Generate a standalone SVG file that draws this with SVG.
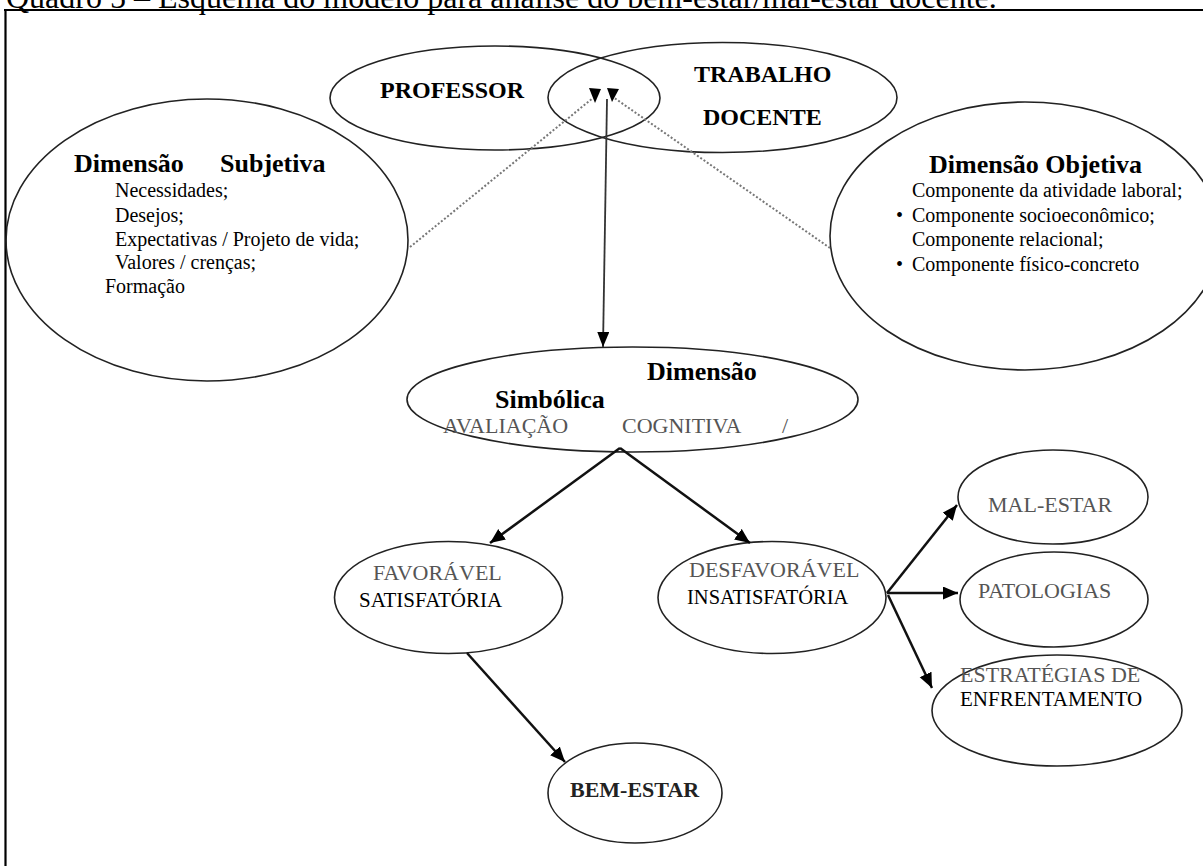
<svg xmlns="http://www.w3.org/2000/svg" width="1203" height="866" viewBox="0 0 1203 866">
<style>
text{font-family:"Liberation Serif","Times New Roman",serif;fill:#000}
.node{fill:none;stroke:#222;stroke-width:1.6}
.b{font-weight:bold}
.h{font-size:26px;font-weight:bold}
.t{font-size:24px;font-weight:bold}
.l{font-size:20px}
.g{font-size:22px;fill:#555}
.k{font-size:21px}
.frame{stroke:#000;stroke-width:2.2;fill:none}
.arr{stroke:#111;stroke-width:2.5;fill:none}
.v{stroke:#333;stroke-width:1.8;fill:none}
.dot{stroke:#777;stroke-width:2;stroke-dasharray:2 2;fill:none}
.head{fill:#000}
</style>
<defs>
<marker id="ah" markerUnits="userSpaceOnUse" markerWidth="16" markerHeight="14" refX="15" refY="6.5" orient="auto"><path d="M0,0 L15,6.5 L0,13 z" fill="#000"/></marker>
<marker id="ahv" markerUnits="userSpaceOnUse" markerWidth="16" markerHeight="14" refX="15" refY="6" orient="auto"><path d="M0,0 L15,6 L0,12 z" fill="#000"/></marker>
</defs>
<rect x="0" y="0" width="1203" height="866" fill="#fff"/>
<g id="title">
<text x="6" y="7.5" font-size="32">Quadro 5 – Esquema do modelo para análise do bem-estar/mal-estar docente.</text>
</g>
<g id="frame">
<line class="frame" x1="4" y1="10" x2="1203" y2="10"/>
<line class="frame" x1="5.5" y1="9" x2="5.5" y2="866"/>
</g>
<g id="professor">
<ellipse class="node" cx="495" cy="98" rx="165" ry="52"/>
<text class="t" x="380" y="98">PROFESSOR</text>
</g>
<g id="trabalho-docente">
<ellipse class="node" cx="722.5" cy="97.5" rx="174.5" ry="55"/>
<text class="t" x="694" y="82">TRABALHO</text>
<text class="t" x="703" y="125">DOCENTE</text>
</g>
<g id="dimensao-subjetiva">
<ellipse class="node" cx="207" cy="240" rx="201" ry="141"/>
<text class="h" y="172"><tspan x="74">Dimensão</tspan><tspan x="220">Subjetiva</tspan></text>
<text class="l" x="115" y="197">Necessidades;</text>
<text class="l" x="115" y="222">Desejos;</text>
<text class="l" x="115" y="246">Expectativas / Projeto de vida;</text>
<text class="l" x="115" y="269">Valores / crenças;</text>
<text class="l" x="105" y="293">Formação</text>
</g>
<g id="dimensao-objetiva">
<ellipse class="node" cx="1025" cy="236" rx="195" ry="134"/>
<text class="h" x="929" y="173">Dimensão Objetiva</text>
<text class="l" x="912" y="197">Componente da atividade laboral;</text>
<text class="l" x="896" y="222">•</text>
<text class="l" x="912" y="222">Componente socioeconômico;</text>
<text class="l" x="912" y="246">Componente relacional;</text>
<text class="l" x="896" y="271">•</text>
<text class="l" x="912" y="271">Componente físico-concreto</text>
</g>
<g id="dimensao-simbolica">
<ellipse class="node" cx="632.5" cy="399.5" rx="225.5" ry="52.5"/>
<text class="h" x="647" y="380">Dimensão</text>
<text class="h" x="495" y="408">Simbólica</text>
<text class="g" x="443" y="433">AVALIAÇÃO</text>
<text class="g" x="622" y="433">COGNITIVA</text>
<text class="g" x="782" y="433">/</text>
</g>
<g id="favoravel">
<ellipse class="node" cx="448.5" cy="597.5" rx="114" ry="56"/>
<text class="g" x="373" y="580">FAVORÁVEL</text>
<text class="k" x="359" y="607">SATISFATÓRIA</text>
</g>
<g id="desfavoravel">
<ellipse class="node" cx="772" cy="597.5" rx="114" ry="56"/>
<text class="g" x="689" y="577">DESFAVORÁVEL</text>
<text class="k" x="687" y="604" style="font-size:20.5px">INSATISFATÓRIA</text>
</g>
<g id="mal-estar">
<ellipse class="node" cx="1053" cy="497" rx="95" ry="47"/>
<text class="g" x="988" y="512">MAL-ESTAR</text>
</g>
<g id="patologias">
<ellipse class="node" cx="1054" cy="599.5" rx="94" ry="47.5"/>
<text class="g" x="978" y="598">PATOLOGIAS</text>
</g>
<g id="estrategias">
<ellipse class="node" cx="1057" cy="710.5" rx="125" ry="55.5"/>
<text class="g" x="960" y="682">ESTRATÉGIAS DE</text>
<text class="k" x="960" y="706">ENFRENTAMENTO</text>
</g>
<g id="bem-estar">
<ellipse class="node" cx="635" cy="793" rx="87" ry="50"/>
<text class="b" x="570" y="797" font-size="22" style="fill:#222">BEM-ESTAR</text>
</g>
<g id="connectors">
<line class="v" x1="607" y1="99" x2="603" y2="347" marker-end="url(#ahv)"/>
<line class="dot" x1="410" y1="247" x2="593" y2="98"/>
<polygon class="head" points="589,88 601,89 595,103"/>
<line class="dot" x1="830" y1="248" x2="613" y2="97"/>
<polygon class="head" points="607,88 619,89 612,102"/>
<line class="arr" x1="620" y1="448" x2="490" y2="543" marker-end="url(#ah)"/>
<line class="arr" x1="620" y1="448" x2="750" y2="543" marker-end="url(#ah)"/>
<line class="arr" x1="467" y1="653" x2="565" y2="762" marker-end="url(#ah)"/>
<line class="arr" x1="887" y1="593" x2="957" y2="505" marker-end="url(#ah)"/>
<line class="arr" x1="887" y1="593" x2="958" y2="593" marker-end="url(#ah)"/>
<line class="arr" x1="888" y1="595" x2="932" y2="688" marker-end="url(#ah)"/>
</g>
</svg>
